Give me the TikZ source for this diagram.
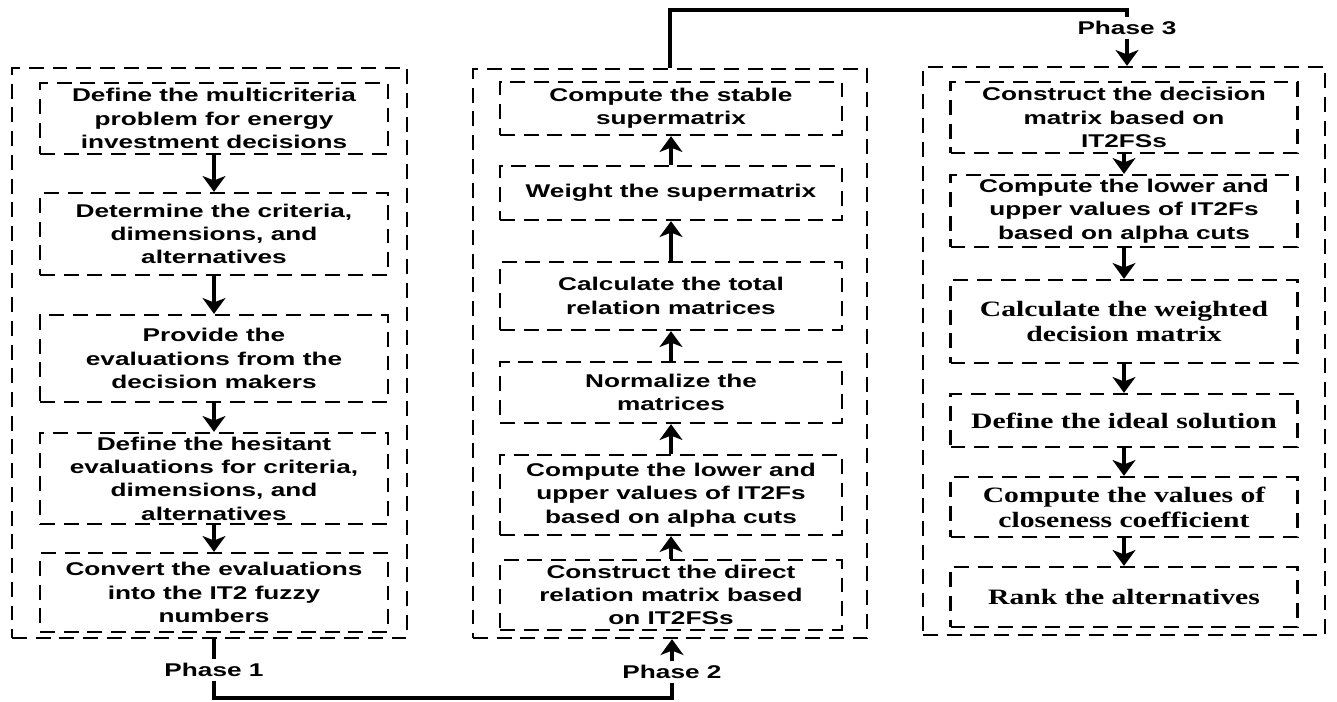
\documentclass[tikz,border=0pt]{standalone}
\usepackage{fontspec}
\setmainfont[FakeStretch=1.42]{Liberation Sans}
\newfontfamily\serifbox[FakeStretch=1.35]{Liberation Serif}
\usetikzlibrary{arrows.meta}
\tikzstyle{stepbox}=[draw,line width=1.3pt,dash pattern=on 8.5pt off 5pt,align=center,inner sep=0pt,
                     font=\fontsize{10.5}{13.3}\selectfont\bfseries]
\tikzstyle{serifstep}=[stepbox,font=\fontsize{12.5}{14.2}\selectfont\serifbox\bfseries]
\tikzstyle{phasebox}=[draw,line width=1.3pt,dash pattern=on 8.5pt off 5pt,inner sep=0pt]
\tikzstyle{phaselabel}=[font=\fontsize{10.5}{13.3}\selectfont\bfseries,inner sep=2pt]
\tikzstyle{flow}=[line width=2.2pt,-{Stealth[length=9pt,width=13pt,inset=2.5pt]}]
\tikzstyle{link}=[line width=2pt]

\begin{document}
\begin{tikzpicture}[x=0.02cm,y=-0.02cm]
  \useasboundingbox (0,0) rectangle (1337,701);
  % frames of the three phases
  \foreach \name/\xa/\ya/\xb/\yb in {Ph-1/12/68/407/638, Ph-2/473/69/867/638, Ph-3/923/67/1325/635}
    \node[phasebox,minimum width={(\xb-\xa)*0.02cm},minimum height={(\yb-\ya)*0.02cm}]
      (\name) at ({(\xa+\xb)/2},{(\ya+\yb)/2}) {};
  % phase 1
  \foreach \name/\ya/\yb/\txt in {L-1/83/154/{Define the multicriteria\\problem for energy\\investment decisions},
                                  L-2/193/275/{Determine the criteria,\\dimensions, and\\alternatives},
                                  L-3/315/402/{Provide the\\evaluations from the\\decision makers},
                                  L-4/433/524/{Define the hesitant\\evaluations for criteria,\\dimensions, and\\alternatives},
                                  L-5/553/632/{Convert the evaluations\\into the IT2 fuzzy\\numbers}}
    \node[stepbox,minimum width=6.96cm,minimum height={(\yb-\ya)*0.02cm}] (\name) at (214,{(\ya+\yb)/2}) {\txt};
  % phase 2
  \foreach \name/\ya/\yb/\txt in {M-1/82/135/{Compute the stable\\supermatrix},
                                  M-2/166/220/{Weight the supermatrix},
                                  M-3/262/330/{Calculate the total\\relation matrices},
                                  M-4/362/423/{Normalize the\\matrices},
                                  M-5/455/535/{Compute the lower and\\upper values of IT2Fs\\based on alpha cuts},
                                  M-6/560/630/{Construct the direct\\relation matrix based\\on IT2FSs}}
    \node[stepbox,minimum width=6.84cm,minimum height={(\yb-\ya)*0.02cm}] (\name) at (671,{(\ya+\yb)/2}) {\txt};
  % phase 3
  \foreach \name/\ya/\yb/\sty/\txt in {R-1/82/153/stepbox/{Construct the decision\\matrix based on\\IT2FSs},
                                       R-2/175/247/stepbox/{Compute the lower and\\upper values of IT2Fs\\based on alpha cuts},
                                       R-3/280/363/serifstep/{Calculate the weighted\\decision matrix},
                                       R-4/394/447/serifstep/{Define the ideal solution},
                                       R-5/477/537/serifstep/{Compute the values of\\closeness coefficient},
                                       R-6/567/627/serifstep/{Rank the alternatives}}
    \node[\sty,minimum width=6.94cm,minimum height={(\yb-\ya)*0.02cm}] (\name) at (1124,{(\ya+\yb)/2}) {\txt};
  % phase labels
  \node[phaselabel] (T-1) at (214,670) {Phase 1};
  \node[phaselabel] (T-2) at (672,672) {Phase 2};
  \node[phaselabel] (T-3) at (1127,28) {Phase 3};
  \coordinate (low) at (0,698);
  \coordinate (high) at (0,10);
  % arrows inside the phases
  \foreach \a/\b in {1/2,2/3,3/4,4/5}
    \draw[flow] (L-\a) -- (L-\b);
  \foreach \a/\b in {1/2,2/3,3/4,4/5,5/6}
    \draw[flow] (M-\b) -- (M-\a);
  \foreach \a/\b in {1/2,2/3,3/4,4/5,5/6}
    \draw[flow] (R-\a) -- (R-\b);
  % links between the phases
  \draw[link] (T-1.north |- Ph-1.south) -- (T-1.north);
  \draw[link] (T-1.south) -- (T-1.south |- low) -| (T-2.south);
  \draw[flow] (T-2.north) -- (T-2.north |- Ph-2.south);
  \draw[link,line width=2.5pt] (Ph-2.north) -- (Ph-2.north |- high) -| (T-3.north);
  \draw[flow] (T-3.south) -- (T-3.south |- Ph-3.north);
\end{tikzpicture}
\end{document}
